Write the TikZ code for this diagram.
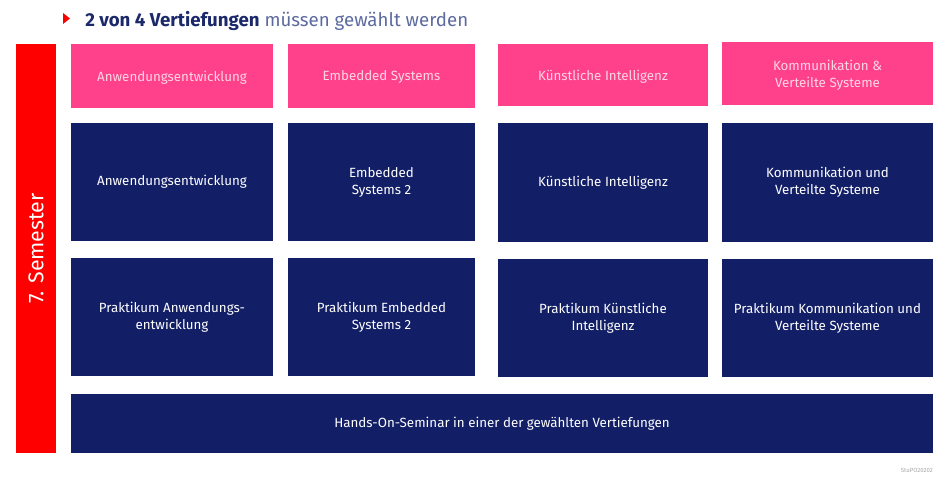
\documentclass[tikz,border=0pt]{standalone}
\usepackage{fontspec}
\setmainfont{Fira Sans}
\usepackage{xcolor}
\usetikzlibrary{shapes,positioning}
\definecolor{stupink}{RGB}{255,64,139}
\definecolor{stupinktext}{RGB}{255,214,228}
\definecolor{stublue}{RGB}{18,31,102}
\definecolor{sturot}{RGB}{255,0,0}
\definecolor{titelblau}{RGB}{27,40,105}
\definecolor{titelgrau}{RGB}{92,106,160}

\begin{document}
\begin{tikzpicture}[x=0.75pt, y=-0.75pt,
  every node/.style={inner sep=0pt, align=center},
  vertiefung/.style={rectangle, fill=stupink, text=stupinktext, text depth=0pt, font=\fontsize{10}{12.75}\selectfont},
  modul/.style={rectangle, fill=stublue, text=white, font=\fontsize{10}{12.75}\selectfont, minimum height=88.5pt}]
\useasboundingbox (0,0) rectangle (950,485);

% Titel
\fill[sturot] (63,13) -- (70,18.5) -- (63,24) -- cycle;
\node[anchor=base west, font=\fontsize{14}{17}\selectfont] (titel) at (85,27)
  {\textcolor{titelblau}{\textbf{2 von 4 Vertiefungen}} \textcolor{titelgrau}{müssen gewählt werden}};

% Semester
\node[rectangle, fill=sturot, minimum width=30pt, minimum height=306.75pt] (semester) at (36,248.5) {};
\node[rotate=90, text=white, font=\fontsize{16}{18}\selectfont] at (semester) {7. Semester};

% Vertiefungen
\node[vertiefung, minimum width=151.5pt, minimum height=48pt] (anw) at (172,76) {Anwendungsentwicklung};
\node[vertiefung, minimum width=140.25pt, minimum height=48pt] (emb) at (381.5,76) {Embedded Systems};
\node[vertiefung, minimum width=157.5pt, minimum height=46.5pt] (ki) at (603,75) {Künstliche Intelligenz};
\node[vertiefung, minimum width=158.25pt, minimum height=47.25pt] (kvs) at (827.5,73.5) {Kommunikation \&\\Verteilte Systeme};

% Module
\node[modul, minimum width=151.5pt] (anwmod) at (172,182) {Anwendungsentwicklung};
\node[modul, minimum width=140.25pt] (embmod) at (381.5,182) {Embedded\\Systems 2};
\node[modul, minimum width=157.5pt] (kimod) at (603,182.5) {Künstliche Intelligenz};
\node[modul, minimum width=158.25pt] (kvsmod) at (827.5,182.5) {Kommunikation und\\Verteilte Systeme};

% Praktika
\node[modul, minimum width=151.5pt] (anwprak) at (172,317) {Praktikum Anwendungs-\\entwicklung};
\node[modul, minimum width=140.25pt] (embprak) at (381.5,317) {Praktikum Embedded\\Systems 2};
\node[modul, minimum width=157.5pt] (kiprak) at (603,318) {Praktikum Künstliche\\Intelligenz};
\node[modul, minimum width=158.25pt] (kvsprak) at (827.5,318) {Praktikum Kommunikation und\\Verteilte Systeme};

% Seminar
\node[modul, minimum width=646.5pt, minimum height=44.25pt] (seminar) at (502,423.5)
  {Hands-On-Seminar in einer der gewählten Vertiefungen};

\node[text=gray!70, font=\fontsize{4.5}{5}\selectfont, anchor=east] (quelle) at (933,470) {StuPO20202};
\end{tikzpicture}
\end{document}
